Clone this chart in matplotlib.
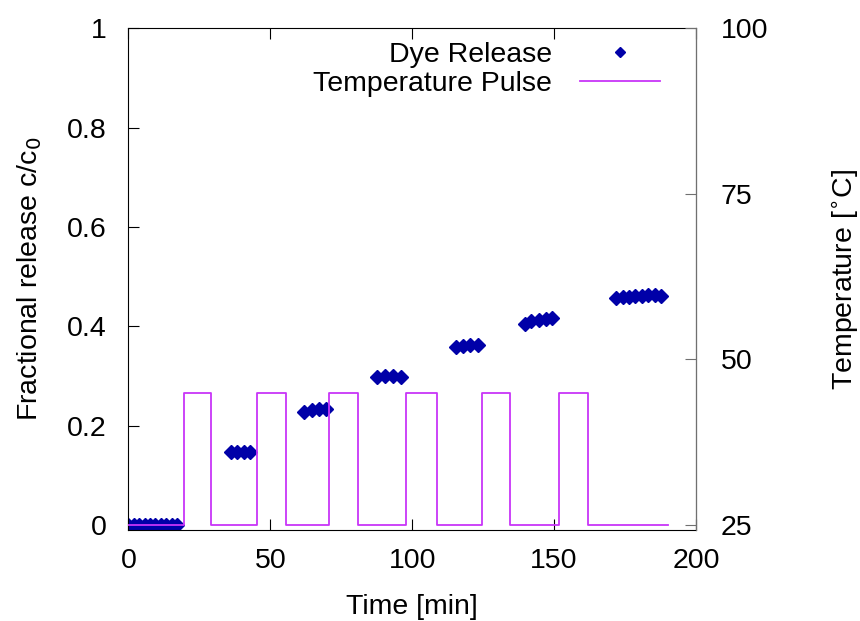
import matplotlib
matplotlib.use("Agg")
import matplotlib.pyplot as plt

plt.rcParams['font.family'] = ['Liberation Sans', 'DejaVu Sans']

# dye release samples (time in min, fractional release c/c0)
dye_time = [0, 1.9, 3.8, 5.7, 7.6, 9.5, 11.4, 13.3, 15.2, 17.0,
            36.0, 38.3, 40.6, 43.0,
            62.0, 64.5, 67.0, 69.5,
            87.7, 90.5, 93.2, 96.0,
            115.5, 118.0, 120.5, 123.0,
            139.7, 142.0, 144.5, 147.0, 149.2,
            171.8, 174.1, 176.4, 178.6, 180.9, 183.2, 185.4, 187.7]
dye_release = [0, 0, 0, 0, 0, 0, 0, 0, 0, 0,
               0.147, 0.147, 0.148, 0.148,
               0.227, 0.231, 0.233, 0.234,
               0.298, 0.300, 0.300, 0.299,
               0.358, 0.361, 0.362, 0.362,
               0.404, 0.410, 0.413, 0.415, 0.416,
               0.457, 0.459, 0.460, 0.461, 0.462, 0.463, 0.463, 0.462]

# temperature pulse (switching times in min, temperature in deg C)
pulse_time = [0, 19.5, 29.0, 45.2, 55.4, 70.8, 81.0, 97.8, 108.6,
              124.6, 134.3, 151.7, 161.9, 190.0]
pulse_temp = [25, 45, 25, 45, 25, 45, 25, 45, 25, 45, 25, 45, 25, 25]

fs = 20.5

fig = plt.figure(figsize=(8.6, 6.21), dpi=100)
ax1 = fig.add_axes([0.1494, 0.1465, 0.6599, 0.8079])

dye_color = '#0000a8'
pulse_color = '#c835f8'

ax1.plot(dye_time, dye_release, linestyle='none', marker='D', markersize=7,
         color=dye_color, label='Dye Release')
ax1.set_xlim(0, 200)
ax1.set_ylim(-0.01, 1.0)
ax1.set_xticks([0, 50, 100, 150, 200])
ax1.set_yticks([0, 0.2, 0.4, 0.6, 0.8, 1.0])
ax1.set_yticklabels(['0', '0.2', '0.4', '0.6', '0.8', '1'])
ax1.tick_params(axis='x', direction='in', length=8, top=True, labelsize=fs, pad=13)
ax1.tick_params(axis='y', direction='in', length=8, right=False, labelsize=fs, pad=16)
ax1.set_xlabel('Time [min]', fontsize=fs, labelpad=14)
ax1.set_ylabel('Fractional release c/c$_0$', fontsize=fs, labelpad=16)

ax2 = ax1.twinx()
ax2.step(pulse_time, pulse_temp, where='post', color=pulse_color, linewidth=1.3,
         label='Temperature Pulse')
ax2.set_ylim(25 - 0.75, 100)
ax2.set_yticks([25, 50, 75, 100])
ax2.tick_params(axis='y', direction='in', length=8, labelsize=fs, pad=18, color='#707070')
ax2.set_ylabel('Temperature [$^{\\circ}$C]', fontsize=fs, labelpad=45)
for side in ['left', 'top', 'bottom']:
    ax2.spines[side].set_visible(False)
ax2.spines['right'].set_color('#707070')

h1, l1 = ax1.get_legend_handles_labels()
h2, l2 = ax2.get_legend_handles_labels()
fig.legend(h1 + h2, l1 + l2, loc='upper right', bbox_to_anchor=(660 / 860, 1 - 42 / 621),
           frameon=False, markerfirst=False, numpoints=1, fontsize=fs,
           handlelength=2.8, handletextpad=1.0, labelspacing=0.12,
           borderpad=0, borderaxespad=0, markerscale=0.8)

fig.savefig('out.png', dpi=100)
